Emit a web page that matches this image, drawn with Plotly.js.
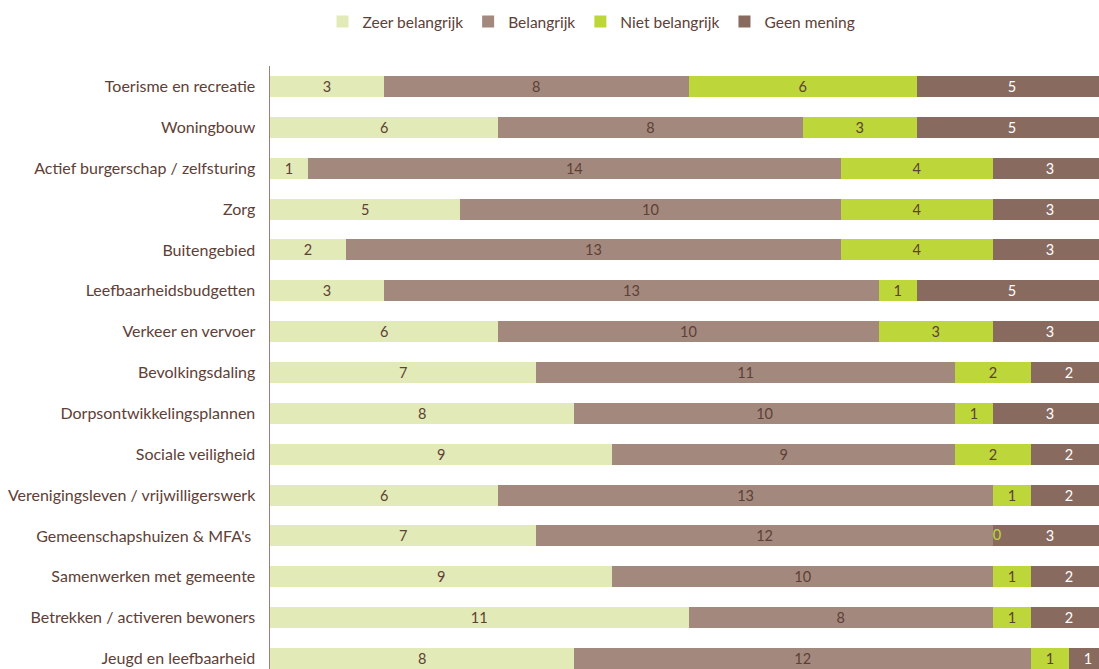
<!DOCTYPE html>
<html>
<head>
<meta charset="utf-8">
<script src="https://cdn.plot.ly/plotly-3.0.1.min.js"></script>
<style>
html,body{margin:0;padding:0;overflow:hidden;background:#fff;}
#chart{width:1107px;height:679px;}
</style>
</head>
<body>
<div id="chart"></div>
<script>
var categories = [
  "Toerisme en recreatie",
  "Woningbouw",
  "Actief burgerschap / zelfsturing",
  "Zorg",
  "Buitengebied",
  "Leefbaarheidsbudgetten",
  "Verkeer en vervoer",
  "Bevolkingsdaling",
  "Dorpsontwikkelingsplannen",
  "Sociale veiligheid",
  "Verenigingsleven / vrijwilligerswerk",
  "Gemeenschapshuizen & MFA's ",
  "Samenwerken met gemeente",
  "Betrekken / activeren bewoners",
  "Jeugd en leefbaarheid"
];
var zeerBelangrijk = [3, 6, 1, 5, 2, 3, 6, 7, 8, 9, 6, 7, 9, 11, 8];
var belangrijk     = [8, 8, 14, 10, 13, 13, 10, 11, 10, 9, 13, 12, 10, 8, 12];
var nietBelangrijk = [6, 3, 4, 4, 4, 1, 3, 2, 1, 2, 1, 0, 1, 1, 1];
var geenMening     = [5, 5, 3, 3, 3, 5, 3, 2, 3, 2, 2, 3, 2, 2, 1];
var seriesNames = ["Zeer belangrijk", "Belangrijk", "Niet belangrijk", "Geen mening"];
var seriesColors = ["#E2EBB7", "#A3897D", "#BDD63A", "#896A5F"];
var labelColors = ["#5E4036", "#5E4036", "#5E4036", "#FFFFFF"];

var FONT = "Lato, 'Open Sans', sans-serif";
var allSeries = [zeerBelangrijk, belangrijk, nietBelangrijk, geenMening];

var traces = allSeries.map(function(vals, i){
  return {
    type: "bar",
    orientation: "h",
    name: seriesNames[i],
    y: categories,
    x: vals,
    text: vals.map(String),
    textposition: "inside",
    insidetextanchor: "middle",
    textangle: 0,
    constraintext: "none",
    textfont: {family: FONT, size: 14.5, color: labelColors[i]},
    marker: {color: seriesColors[i], line: {width: 0}},
    hoverinfo: "x+y+name"
  };
});

// labels for zero-width segments of "Niet belangrijk"
var zx = [], zy = [], zt = [];
nietBelangrijk.forEach(function(v, k){
  if (v === 0) {
    zx.push(zeerBelangrijk[k] + belangrijk[k]);
    zy.push(categories[k]);
    zt.push(String(v));
  }
});
traces.push({
  type: "scatter",
  mode: "text",
  x: zx, y: zy, text: zt,
  textposition: "middle right",
  textfont: {family: FONT, size: 14.5, color: seriesColors[2]},
  showlegend: false,
  hoverinfo: "skip",
  cliponaxis: false
});

var layout = {
  width: 1107,
  height: 679,
  margin: {l: 270, r: 0, t: 66, b: 0, pad: 0},
  barmode: "stack",
  bargap: 0.485,
  paper_bgcolor: "#ffffff",
  plot_bgcolor: "#ffffff",
  font: {family: FONT, size: 14, color: "#5E4036"},
  showlegend: true,
  legend: {
    orientation: "h",
    x: (591.5 - 270) / 837,
    xanchor: "center",
    y: 1 + (66 - 22) / 613,
    yanchor: "middle",
    font: {family: FONT, size: 15.5, color: "#5E4036"},
    traceorder: "normal",
    itemwidth: 30,
    bgcolor: "rgba(0,0,0,0)"
  },
  xaxis: {
    range: [0, 22],
    visible: false,
    showgrid: false,
    zeroline: false,
    fixedrange: true
  },
  yaxis: {
    type: "category",
    autorange: "reversed",
    showline: true,
    linecolor: "#9C8076",
    linewidth: 1.5,
    showgrid: false,
    zeroline: false,
    ticks: "",
    ticklabelstandoff: 10,
    tickfont: {family: FONT, size: 16, color: "#5E4036"},
    fixedrange: true
  }
};

Plotly.newPlot("chart", traces, layout, {displayModeBar: false, staticPlot: true});
</script>
</body>
</html>
